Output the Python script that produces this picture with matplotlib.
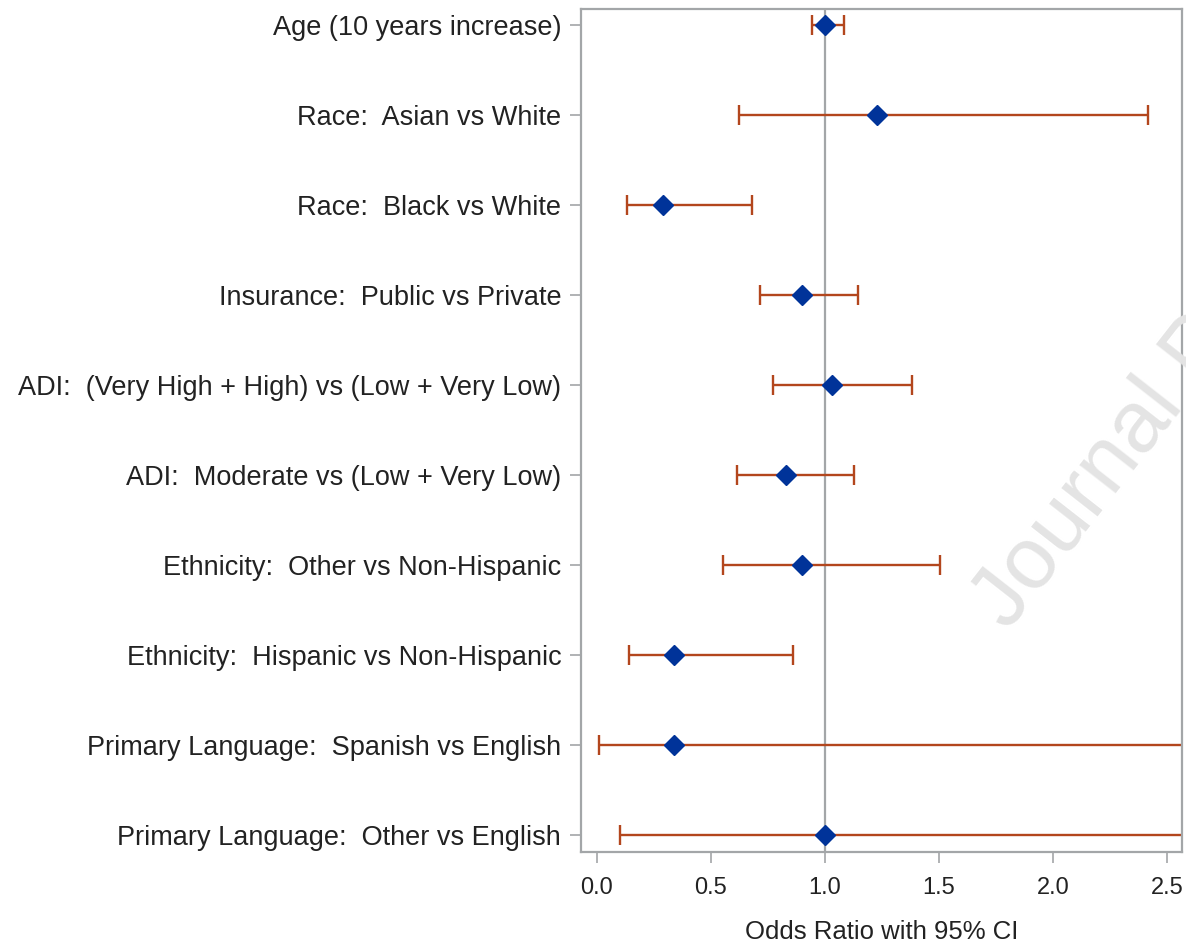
import matplotlib
matplotlib.use("Agg")
import matplotlib.pyplot as plt
import numpy as np

plt.rcParams['font.family'] = ['Liberation Sans', 'DejaVu Sans']

# odds ratios with 95% CI, top to bottom
labels = [
    "Age (10 years increase)",
    "Race:  Asian vs White",
    "Race:  Black vs White",
    "Insurance:  Public vs Private",
    "ADI:  (Very High + High) vs (Low + Very Low)",
    "ADI:  Moderate vs (Low + Very Low)",
    "Ethnicity:  Other vs Non-Hispanic",
    "Ethnicity:  Hispanic vs Non-Hispanic",
    "Primary Language:  Spanish vs English",
    "Primary Language:  Other vs English",
]
odds = [1.00, 1.23, 0.29, 0.90, 1.03, 0.83, 0.90, 0.34, 0.34, 1.00]
lower = [0.943, 0.625, 0.13, 0.715, 0.77, 0.613, 0.551, 0.139, 0.008, 0.10]
upper = [1.082, 2.418, 0.68, 1.146, 1.383, 1.127, 1.503, 0.861, 9.5, 7.8]
xticks = [0.0, 0.5, 1.0, 1.5, 2.0, 2.5]

grey = '#a3a6a8'
blue = '#003399'
rust = '#b3461d'

fig = plt.figure(figsize=(11.86, 9.51), dpi=100)
ax = fig.add_axes([0.4896, 0.1041, 0.507, 0.8864])

y = np.arange(len(labels))
odds = np.array(odds)
err = [odds - np.array(lower), np.array(upper) - odds]

ax.axvline(1.0, color=grey, lw=1.6, zorder=1)
ax.errorbar(odds, y, xerr=err, fmt='none', ecolor=rust, elinewidth=1.7,
            capsize=7.5, capthick=1.7, zorder=2)
ax.plot(odds, y, 'D', color=blue, markersize=10, zorder=3)

ax.set_xlim(-0.0715, 2.566)
ax.set_ylim(len(labels) - 1 + 0.19, -0.178)
ax.set_yticks(y)
ax.set_yticklabels(labels)
ax.set_xticks(xticks)
ax.set_xticklabels(["%.1f" % t for t in xticks])
ax.tick_params(axis='both', colors=grey, labelcolor='#222222',
               length=8, width=1.2, pad=6)
ax.tick_params(axis='y', labelsize=19.5)
ax.tick_params(axis='x', labelsize=17, pad=10)
for s in ax.spines.values():
    s.set_color(grey)
    s.set_linewidth(1.6)
ax.set_xlabel("Odds Ratio with 95% CI", fontsize=18.5, color='#222222', labelpad=15)

# watermark
fig.text(0.85, 0.336, "Journal Pre-proof", fontsize=63, color='#e4e4e4',
         rotation=52, rotation_mode='anchor', ha='left', va='baseline', zorder=0)

fig.savefig("out.png", dpi=100)
